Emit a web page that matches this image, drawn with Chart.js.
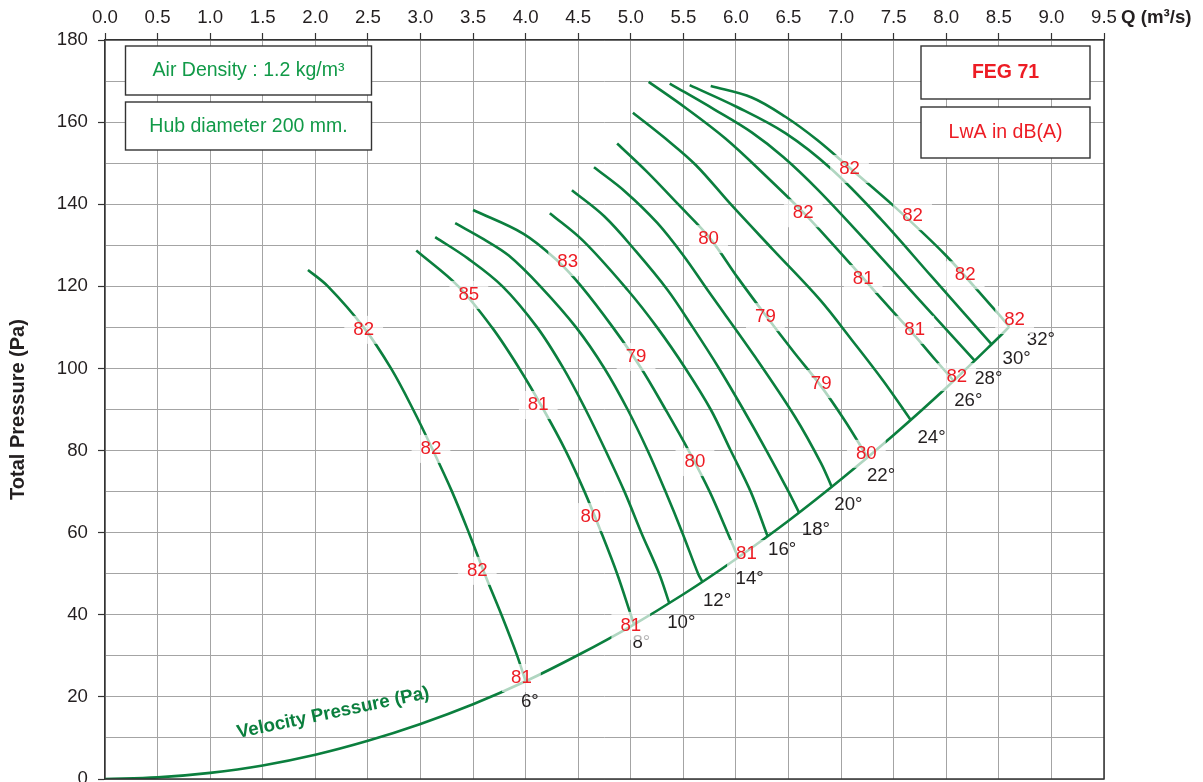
<!DOCTYPE html>
<html>
<head>
<meta charset="utf-8">
<script src="https://cdn.jsdelivr.net/npm/chart.js@4.4.1/dist/chart.umd.min.js"></script>
<style>
html,body{margin:0;padding:0;background:#fff;overflow:hidden}
#wrap{position:relative;width:1203px;height:782px}
</style>
</head>
<body>
<div id="wrap"><canvas id="c"></canvas></div>
<script>
// ---------- data ----------
const qTicks = [0,0.5,1,1.5,2,2.5,3,3.5,4,4.5,5,5.5,6,6.5,7,7.5,8,8.5,9,9.5];

// Velocity pressure curve [Q, Pa]
const velocityPressure = [[0,0],[0.5,0.4],[1,1.5],[1.5,3.3],[2,5.9],[2.5,9.3],[3,13.4],[3.5,18.2],[4,23.8],[4.5,30.2],[5,37.2],[5.5,45.0],[6,53.6],[6.5,62.9],[7,73.0],[7.5,83.8],[8,95.3],[8.5,107.6],[8.6,110.2]];

// Blade-angle curves [Q, Pa]
const blade6  = [[1.93,124.0],[2.12,120],[2.46,110],[2.72,100],[2.93,90],[3.12,80],[3.30,70],[3.46,60],[3.61,50],[3.77,40],[3.92,30],[4.00,23.8]];
const blade8  = [[2.96,128.7],[3.36,120],[3.68,110],[3.94,100],[4.17,90],[4.38,80],[4.56,70],[4.72,60],[4.87,50],[5.00,40],[5.03,37.7]];
const blade10 = [[3.14,132.0],[3.45,126.8],[3.78,120],[4.11,110],[4.36,100],[4.57,90],[4.76,80],[4.94,70],[5.10,60],[5.27,50],[5.365,42.9]];
const blade12 = [[3.33,135.4],[3.60,131.5],[3.84,127.5],[4.14,120],[4.48,110],[4.75,100],[4.97,90],[5.16,80],[5.33,70],[5.49,60],[5.64,50],[5.68,48.1]];
const blade14 = [[3.50,138.6],[3.98,132.8],[4.30,126.3],[4.53,120],[4.83,110],[5.10,100],[5.33,90],[5.55,80],[5.75,70],[5.92,60],[6.02,54.0]];
const blade16 = [[4.23,137.8],[4.55,131],[4.97,119.1],[5.25,110],[5.52,100],[5.76,90],[5.95,80],[6.14,70],[6.30,59.2]];
const blade18 = [[4.44,143.4],[4.75,137],[5.05,128.5],[5.35,119.1],[5.59,110],[5.84,100],[6.07,90],[6.29,80],[6.50,70],[6.60,64.9]];
const blade20 = [[4.65,149.0],[4.95,143],[5.25,135.5],[5.50,127.5],[5.73,119.1],[6.18,102.9],[6.56,88.3],[6.81,76.9],[6.91,71.2]];
const blade22 = [[4.87,154.8],[5.15,148],[5.45,140],[5.75,131.8],[6.02,122],[6.28,113],[6.55,104],[6.80,96],[7.03,87.5],[7.25,78.4]];
const blade24 = [[5.02,162.3],[5.33,156],[5.62,149.5],[5.95,140],[6.35,129],[6.80,116.7],[7.10,107],[7.40,97],[7.66,87.5]];
const blade26 = [[5.17,169.8],[5.52,163.5],[5.90,156],[6.28,147],[6.64,138],[6.93,130],[7.21,122],[7.47,114.5],[7.70,108],[7.90,102],[8.07,97.0]];
const blade28 = [[5.37,169.4],[5.80,163],[6.15,157.5],[6.45,151.5],[6.78,143.5],[7.22,131.5],[7.72,117.4],[8.27,101.9]];
const blade30 = [[5.56,169.0],[6.00,163.8],[6.47,157.3],[6.91,148.5],[7.38,136.3],[7.86,122.4],[8.43,105.9]];
const blade32 = [[5.76,168.8],[6.15,166.0],[6.47,161.3],[6.77,155.7],[7.08,148.9],[7.50,139.6],[7.99,127.7],[8.46,114.3],[8.60,110.2]];
const bladeCurves = [blade6,blade8,blade10,blade12,blade14,blade16,blade18,blade20,blade22,blade24,blade26,blade28,blade30,blade32];

// Blade angle labels [Q, Pa, text]
const angleLabels = [[4.04,18.8,'6°'],[5.10,33.1,'8°'],[5.48,38.0,'10°'],[5.82,43.5,'12°'],[6.13,48.8,'14°'],[6.44,55.8,'16°'],[6.76,60.8,'18°'],[7.07,66.8,'20°'],[7.38,73.9,'22°'],[7.86,83.2,'24°'],[8.21,92.0,'26°'],[8.40,97.5,'28°'],[8.67,102.3,'30°'],[8.90,107.0,'32°']];

// Sound power labels LwA dB(A) [Q, Pa, text]
const dbLabels = [
 [2.46,109.4,'82'],[3.10,80.4,'82'],[3.54,50.7,'82'],[3.96,24.6,'81'],
 [3.46,117.9,'85'],[4.12,91.1,'81'],[4.62,63.8,'80'],[5.00,37.3,'81'],
 [4.40,125.9,'83'],[5.05,102.8,'79'],[5.61,77.2,'80'],[6.10,54.8,'81'],
 [5.74,131.5,'80'],[6.28,112.5,'79'],[6.81,96.2,'79'],[7.24,79.2,'80'],
 [6.64,137.8,'82'],[7.21,121.8,'81'],[7.70,109.4,'81'],[8.10,97.9,'82'],
 [7.08,148.6,'82'],[7.68,137.1,'82'],[8.18,122.7,'82'],[8.65,111.8,'82']
];

// ---------- styling ----------
const FONT = "'Liberation Sans', Arial, Helvetica, sans-serif";
const FS = 18.67;
const BOXFS = 19.5;
const GREEN = '#0b7f3e';
const TEXTGREEN = '#119a48';
const RED = '#ed1c24';
const DARK = '#231f20';
const GRID = '#a4a4a4';

Chart.defaults.font.family = FONT;
Chart.defaults.font.size = FS;
Chart.defaults.color = DARK;

const toPts = arr => arr.map(([x, y]) => ({x, y}));
const lineStyle = {showLine: true, borderColor: GREEN, borderWidth: 2.6, pointRadius: 0, fill: false, tension: 0.35};
const datasets = bladeCurves.map(c => Object.assign({data: toPts(c)}, lineStyle));
datasets.push(Object.assign({data: toPts(velocityPressure)}, lineStyle));

function box(ctx, x1, y1, x2, y2) {
  ctx.fillStyle = '#fff';
  ctx.fillRect(x1, y1, x2 - x1, y2 - y1);
  ctx.strokeStyle = '#333';
  ctx.lineWidth = 1.4;
  ctx.strokeRect(x1, y1, x2 - x1, y2 - y1);
}

const overlay = {
  id: 'overlay',
  afterDatasetsDraw(chart) {
    const {ctx, chartArea: a, scales: {x, y}} = chart;
    ctx.save();
    ctx.textAlign = 'center';
    ctx.textBaseline = 'middle';
    ctx.font = `${FS}px ${FONT}`;
    // blade angle labels
    ctx.fillStyle = DARK;
    angleLabels.forEach(([q, p, t]) => ctx.fillText(t, x.getPixelForValue(q), y.getPixelForValue(p)));
    // dB labels with translucent background
    dbLabels.forEach(([q, p, t]) => {
      const px = x.getPixelForValue(q), py = y.getPixelForValue(p);
      const w = ctx.measureText(t).width + 18, h = 28;
      ctx.fillStyle = 'rgba(255,255,255,0.68)';
      ctx.fillRect(px - w / 2, py - h / 2, w, h);
      ctx.fillStyle = RED;
      ctx.fillText(t, px, py);
    });
    // Velocity pressure caption
    ctx.save();
    ctx.translate(x.getPixelForValue(2.17), y.getPixelForValue(16.1));
    ctx.rotate(-11.8 * Math.PI / 180);
    ctx.font = `bold ${FS}px ${FONT}`;
    ctx.fillStyle = GREEN;
    ctx.fillText('Velocity Pressure (Pa)', 0, 0);
    ctx.restore();
    // right / bottom frame
    ctx.strokeStyle = '#333';
    ctx.lineWidth = 1.5;
    ctx.beginPath();
    ctx.moveTo(a.right, a.top);
    ctx.lineTo(a.right, a.bottom);
    ctx.lineTo(a.left, a.bottom);
    ctx.stroke();
    // info boxes
    box(ctx, 125.5, 46, 371.5, 95);
    box(ctx, 125.5, 102, 371.5, 150);
    box(ctx, 921, 46, 1090, 99);
    box(ctx, 921, 107, 1090, 158);
    ctx.font = `${BOXFS}px ${FONT}`;
    ctx.fillStyle = TEXTGREEN;
    ctx.fillText('Air Density : 1.2 kg/m³', 248.5, 71);
    ctx.fillText('Hub diameter 200 mm.', 248.5, 126.5);
    ctx.fillStyle = RED;
    ctx.font = `bold ${BOXFS}px ${FONT}`;
    ctx.fillText('FEG 71', 1005.5, 72.5);
    ctx.font = `${BOXFS}px ${FONT}`;
    ctx.fillText('LwA in dB(A)', 1005.5, 133);
    ctx.restore();
  },
  afterDraw(chart) {
    const {ctx, chartArea: a} = chart;
    ctx.save();
    ctx.fillStyle = DARK;
    ctx.font = `bold ${FS}px ${FONT}`;
    ctx.textAlign = 'left';
    ctx.textBaseline = 'middle';
    ctx.fillText('Q (m³/s)', a.right + 17, 17.5);
    ctx.translate(18, (a.top + a.bottom) / 2);
    ctx.rotate(-Math.PI / 2);
    ctx.textAlign = 'center';
    ctx.font = `bold 20px ${FONT}`;
    ctx.fillText('Total Pressure (Pa)', 0, 0);
    ctx.restore();
  }
};

new Chart(document.getElementById('c'), {
  type: 'scatter',
  data: {datasets},
  options: {
    responsive: true,
    maintainAspectRatio: false,
    animation: false,
    events: [],
    layout: {padding: {left: 0, top: 0, right: 99, bottom: 3}},
    plugins: {legend: {display: false}, tooltip: {enabled: false}},
    scales: {
      x: {
        type: 'linear', position: 'top', min: 0, max: 9.5,
        afterBuildTicks: s => { s.ticks = qTicks.map(v => ({value: v})); },
        afterFit: s => { s.height = 40; s.paddingLeft = 0; s.paddingRight = 0; },
        ticks: {callback: v => Number(v).toFixed(1), padding: 4, color: DARK, maxRotation: 0, autoSkip: false, font: {size: FS}},
        grid: {color: GRID, lineWidth: 1, tickLength: 7, tickColor: '#333', tickWidth: 1.2},
        border: {display: true, color: '#333', width: 1.5}
      },
      y: {
        type: 'linear', min: 0, max: 180,
        afterFit: s => { s.width = 105; s.paddingTop = 0; s.paddingBottom = 0; },
        ticks: {stepSize: 10, autoSkip: false, padding: 10, color: DARK, font: {size: FS},
                callback: v => (v % 20 === 0 ? String(v) : '')},
        grid: {color: GRID, lineWidth: 1, tickLength: 7, tickWidth: 1.2,
               tickColor: c => (c.tick && c.tick.value % 20 === 0 ? '#333' : 'rgba(0,0,0,0)')},
        border: {display: true, color: '#333', width: 1.5}
      }
    }
  },
  plugins: [overlay]
});
</script>
</body>
</html>
